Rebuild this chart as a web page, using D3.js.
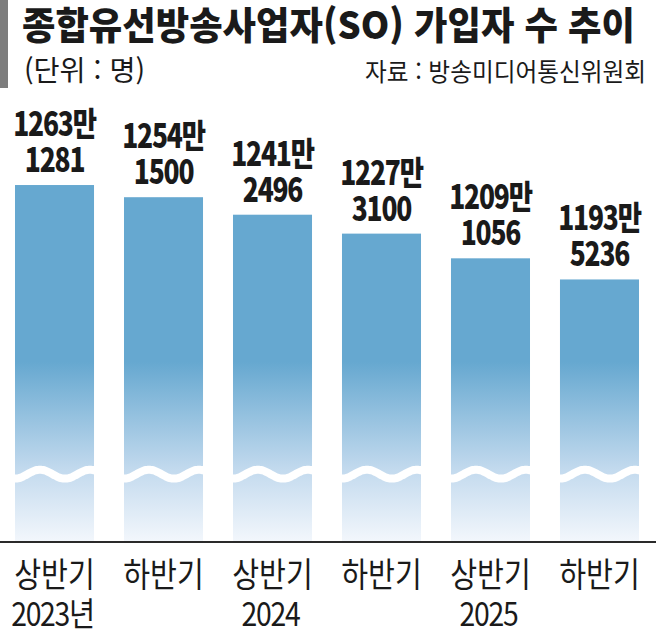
<!doctype html>
<html lang="ko">
<head>
  <meta charset="utf-8">
  <title>종합유선방송사업자(SO) 가입자 수 추이</title>
  <script src="https://d3js.org/d3.v7.min.js"></script>
  <style>
    body { margin: 0; background: #fff; }
    svg { display: block; font-family: "Noto Sans CJK KR", "Noto Sans", sans-serif; }
  </style>
</head>
<body>
<svg width="656" height="632"></svg>
<script>
// data
var halves = ["상반기", "하반기", "상반기", "하반기", "상반기", "하반기"];
var years = ["2023년", "", "2024", "", "2025", ""];
var subscribers = [12631281, 12541500, 12412496, 12273100, 12091056, 11935236];
var breakValue = 10500000; // where the bars are cut (wavy line)

var svg = d3.select("svg"),
    width = 656,
    baseY = 542;

var x = d3.scaleBand()
  .domain(d3.range(subscribers.length))
  .range([0, 654])
  .paddingInner(0.275)
  .paddingOuter(0.1376);

// y axis starts at 10 million, bars are cut
var y = d3.scaleLinear()
  .domain([10000000, 13000000])
  .range([baseY, baseY - 407]);

// gradient shared by all bars
var defs = svg.append("defs");
var grad = defs.append("linearGradient")
  .attr("id", "barGrad")
  .attr("gradientUnits", "userSpaceOnUse")
  .attr("x1", 0).attr("x2", 0)
  .attr("y1", 362).attr("y2", baseY);
grad.append("stop").attr("offset", 0).attr("stop-color", "#66a8d0");
grad.append("stop").attr("offset", 0.6).attr("stop-color", "#c3daee");
grad.append("stop").attr("offset", 1).attr("stop-color", "#f3f7fc");

// title block
svg.append("rect").attr("x", 0).attr("y", 0).attr("width", 8).attr("height", 88).attr("fill", "#7d7d7d");

svg.append("text")
  .attr("x", 22).attr("y", 39)
  .attr("textLength", 613).attr("lengthAdjust", "spacingAndGlyphs")
  .style("font-size", "38px").style("font-weight", 900).attr("fill", "#1a1a1a")
  .text("종합유선방송사업자(SO) 가입자 수 추이");

svg.append("text")
  .attr("x", 24).attr("y", 81)
  .attr("textLength", 121).attr("lengthAdjust", "spacingAndGlyphs")
  .style("font-size", "28px").attr("fill", "#1a1a1a")
  .text("(단위 : 명)");

svg.append("text")
  .attr("x", 365).attr("y", 81)
  .attr("textLength", 281).attr("lengthAdjust", "spacingAndGlyphs")
  .style("font-size", "25px").attr("fill", "#1a1a1a")
  .text("자료 : 방송미디어통신위원회");

var g = svg.append("g");

// bars
g.selectAll("rect.bar")
  .data(subscribers)
  .join("rect")
  .attr("class", "bar")
  .attr("x", (d, i) => x(i))
  .attr("y", d => y(d))
  .attr("width", x.bandwidth())
  .attr("height", d => baseY - y(d))
  .attr("fill", "url(#barGrad)");

// wavy cut across each bar
var waveLen = 50, amp = 4.5;
var wave = d3.line().curve(d3.curveBasis);
g.selectAll("path.wave")
  .data(subscribers)
  .join("path")
  .attr("class", "wave")
  .attr("d", function(d, i) {
    var x0 = x(i) - 2, x1 = x(i) + x.bandwidth() + 2, pts = [];
    for (var px = x0; px <= x1; px += 2) {
      pts.push([px, y(breakValue) - amp * Math.cos(2 * Math.PI * (px - x(i) - 25) / waveLen)]);
    }
    return wave(pts);
  })
  .attr("fill", "none")
  .attr("stroke", "#fff")
  .attr("stroke-width", 8);

// cover the wave overshoot between bars
g.selectAll("rect.gap")
  .data(subscribers.slice(1))
  .join("rect")
  .attr("x", (d, i) => x(i) + x.bandwidth())
  .attr("y", y(breakValue) - 12)
  .attr("width", x.step() - x.bandwidth())
  .attr("height", 24)
  .attr("fill", "#fff");

// baseline
svg.append("line")
  .attr("x1", 0).attr("x2", width)
  .attr("y1", baseY).attr("y2", baseY)
  .attr("stroke", "#2a2a2a").attr("stroke-width", 1.8);

// value labels (만 / remainder)
var fmt4 = d3.format("04d");
var labels = g.selectAll("g.lbl")
  .data(subscribers)
  .join("g")
  .attr("class", "lbl")
  .attr("transform", (d, i) => "translate(" + (x(i) + x.bandwidth() / 2) + "," + y(d) + ")");

labels.append("text")
  .attr("transform", "translate(0,-49) scale(0.8,1)")
  .attr("text-anchor", "middle")
  .style("font-size", "33px").style("font-weight", 900).style("letter-spacing", "-1.5px")
  .attr("fill", "#1a1a1a")
  .text(d => Math.floor(d / 10000) + "만");

labels.append("text")
  .attr("transform", "translate(0,-13) scale(0.8,1)")
  .attr("text-anchor", "middle")
  .style("font-size", "33px").style("font-weight", 900).style("letter-spacing", "-1.5px")
  .attr("fill", "#1a1a1a")
  .text(d => fmt4(d % 10000));

// category labels
g.selectAll("text.half")
  .data(halves)
  .join("text")
  .attr("class", "half")
  .attr("transform", (d, i) => "translate(" + (x(i) + x.bandwidth() / 2) + ",587) scale(0.86,1)")
  .attr("text-anchor", "middle")
  .style("font-size", "34px")
  .attr("fill", "#1a1a1a")
  .text(d => d);

g.selectAll("text.year")
  .data(years)
  .join("text")
  .attr("class", "year")
  .attr("transform", (d, i) => "translate(" + (x(i) + x.bandwidth() / 2 - 2) + ",626) scale(0.86,1)")
  .attr("text-anchor", "middle")
  .style("font-size", "33px").style("letter-spacing", "-1.5px")
  .attr("fill", "#1a1a1a")
  .text(d => d);
</script>
</body>
</html>
